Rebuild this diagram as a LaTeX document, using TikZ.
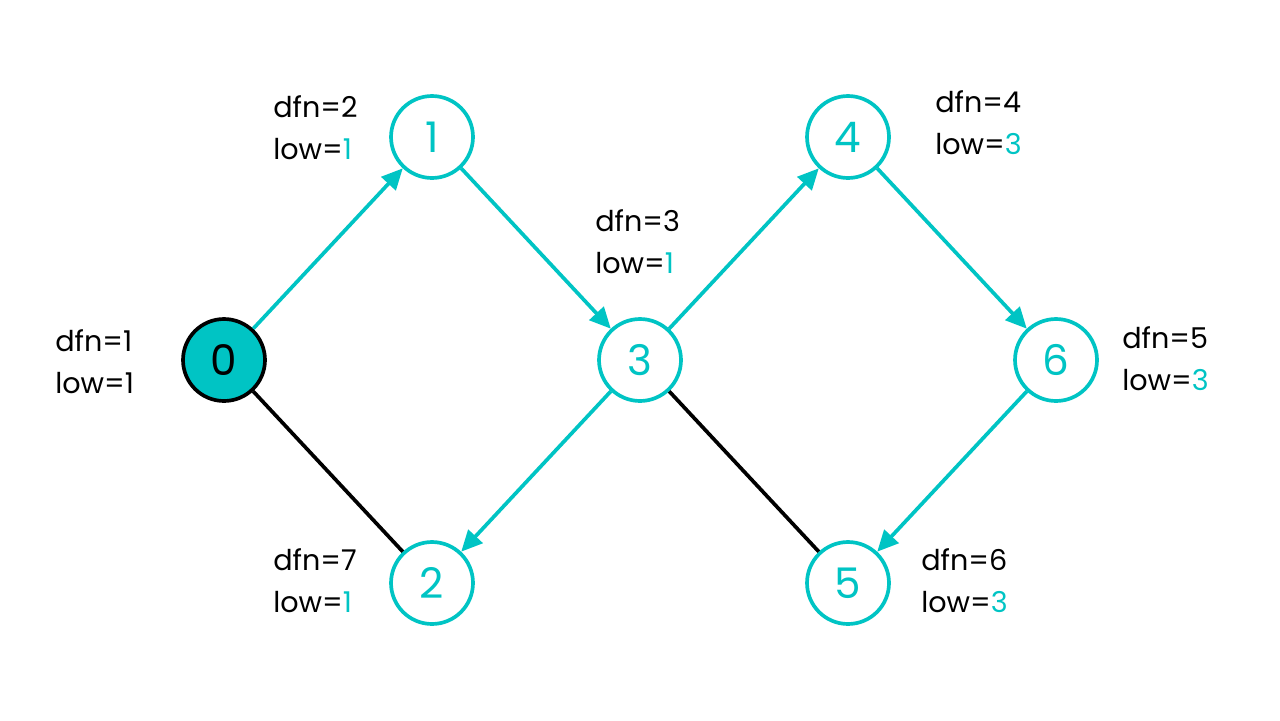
\documentclass[tikz,border=0pt]{standalone}
\usepackage{fontspec}
\setmainfont{Poppins}
\usetikzlibrary{arrows.meta}
\definecolor{tq}{HTML}{00C4C4}
\tikzset{
  vtx/.style={circle, draw=tq, line width=2.1pt, minimum size=1.64cm, inner sep=0pt, text=tq, font=\fontsize{24}{28}\selectfont, fill=white},
  root/.style={vtx, draw=black, fill=tq, text=black},
  arr/.style={draw=tq, line width=2.1pt, -{Triangle[length=12pt, width=11pt]}},
  plain/.style={draw=black, line width=2.1pt},
  lbl/.style={anchor=west, align=left, inner sep=0pt, font=\fontsize{16.3}{23.8}\selectfont},
}
\newcommand{\hl}[1]{\textcolor{tq}{#1}}
\begin{document}
\begin{tikzpicture}[x=0.02cm, y=-0.02cm]
\useasboundingbox (0,0) rectangle (1280,720);
\fill[white] (0,0) rectangle (1280,720);
\node[root] (n0) at (224,360) {0};
\node[vtx] (n1) at (432,137) {1};
\node[vtx] (n3) at (640,360) {3};
\node[vtx] (n2) at (432,583) {2};
\node[vtx] (n4) at (848,137) {4};
\node[vtx] (n6) at (1056,360) {6};
\node[vtx] (n5) at (848,583) {5};
\draw[arr] (n0) -- (n1);
\draw[arr] (n1) -- (n3);
\draw[arr] (n3) -- (n4);
\draw[arr] (n4) -- (n6);
\draw[arr] (n6) -- (n5);
\draw[arr] (n3) -- (n2);
\draw[plain] (n0) -- (n2);
\draw[plain] (n3) -- (n5);
\node[lbl] (l0) at (55,362) {dfn=1\\low=1};
\node[lbl] (l1) at (273,128) {dfn=2\\low=\hl{1}};
\node[lbl] (l3) at (595,242) {dfn=3\\low=\hl{1}};
\node[lbl] (l4) at (935,123) {dfn=4\\low=\hl{3}};
\node[lbl] (l6) at (1122,359) {dfn=5\\low=\hl{3}};
\node[lbl] (l2) at (273,581) {dfn=7\\low=\hl{1}};
\node[lbl] (l5) at (921,581) {dfn=6\\low=\hl{3}};
\end{tikzpicture}
\end{document}
